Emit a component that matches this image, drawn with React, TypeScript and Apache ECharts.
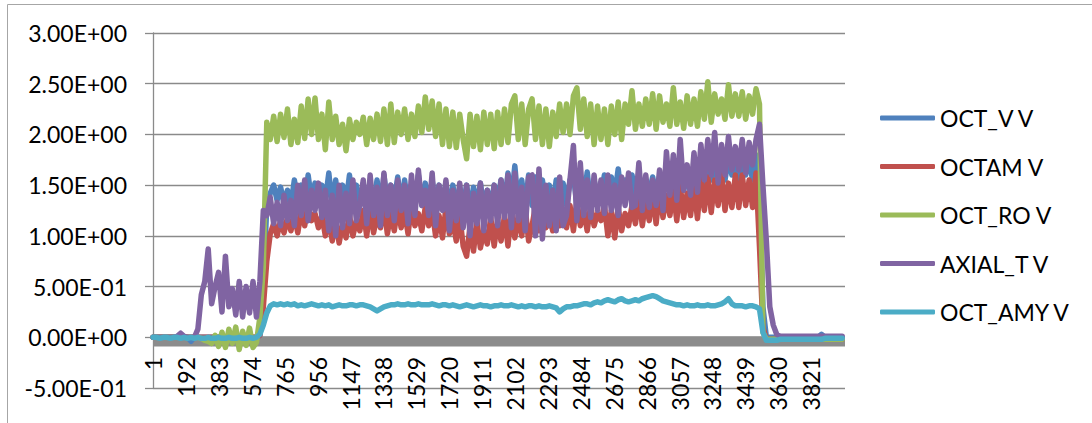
import React, { useEffect, useRef } from 'react';
import * as echarts from 'echarts';

const SERIES_NAMES = ['OCT_V V', 'OCTAM V', 'OCT_RO V', 'AXIAL_T V', 'OCT_AMY V'];
const COLORS = ['#4F81BD', '#C0504D', '#9BBB59', '#8064A2', '#4BACC6'];
const X_TICK_LABELS = [1, 192, 383, 574, 765, 956, 1147, 1338, 1529, 1720, 1911, 2102, 2293, 2484, 2675, 2866, 3057, 3248, 3439, 3630, 3821];
const SAMPLE_FIRST = 1;
const SAMPLE_STEP = 20;

// values read every 20 samples (sample 1, 21, 41, ... 4001)
const OCT_V = [
  0, 0, 0, 0, 0, 0, 0, 0, 0, 0,
  0, -0.04, 0, 0, 0, 0, 0, 0, 0, 0,
  0, 0, 0, 0, 0, 0, 0, 0, 0, 0,
  0, 0.02, 0.5, 1.3, 1.42, 1.5, 1.35, 1.48, 1.32, 1.45,
  1.3, 1.55, 1.35, 1.5, 1.28, 1.6, 1.35, 1.52, 1.3, 1.5,
  1.35, 1.62, 1.3, 1.55, 1.25, 1.5, 1.32, 1.6, 1.28, 1.5,
  1.3, 1.52, 1.25, 1.48, 1.3, 1.55, 1.28, 1.6, 1.32, 1.5,
  1.35, 1.58, 1.3, 1.55, 1.28, 1.5, 1.35, 1.6, 1.3, 1.52,
  1.3, 1.55, 1.28, 1.5, 1.3, 1.52, 1.25, 1.5, 1.28, 1.48,
  1.3, 1.5, 1.25, 1.48, 1.3, 1.52, 1.28, 1.45, 1.3, 1.5,
  1.35, 1.55, 1.3, 1.62, 1.35, 1.69, 1.3, 1.55, 1.28, 1.6,
  1.3, 1.58, 1.25, 1.55, 1.3, 1.5, 1.28, 1.55, 1.3, 1.52,
  1.3, 1.55, 1.6, 1.3, 1.58, 1.35, 1.63, 1.3, 1.55, 1.35,
  1.4, 1.6, 1.35, 1.58, 1.4, 1.66, 1.35, 1.55, 1.4, 1.6,
  1.4, 1.6, 1.38, 1.55, 1.42, 1.58, 1.4, 1.52, 1.45, 1.5,
  1.45, 1.6, 1.4, 1.65, 1.45, 1.6, 1.42, 1.65, 1.45, 1.7,
  1.5, 1.75, 1.55, 1.8, 1.5, 1.72, 1.55, 1.78, 1.6, 1.75,
  1.55, 1.8, 1.6, 1.75, 1.55, 1.8, 1.5, 0.3, 0, 0,
  0, 0, 0, 0, 0, 0, 0, 0, 0, 0,
  0, 0, 0, 0, 0.03, 0, 0, 0, 0, 0,
  0,
];

const OCTAM_V = [
  0, 0, 0, 0, 0, 0, 0, 0, 0, 0,
  0, 0, 0, 0, 0, 0, 0, 0, 0, 0,
  0, 0, 0, 0, 0, 0, 0, 0, 0, 0,
  0, 0.02, 0.3, 0.75, 1.02, 1.12, 1.0, 1.15, 1.03, 1.18,
  1.05, 1.2, 1.03, 1.25, 1.1, 1.3, 1.15, 1.22, 1.08, 1.2,
  1.0, 1.18, 0.95, 1.15, 0.93, 1.12, 0.98, 1.2, 1.0, 1.15,
  1.05, 1.25, 1.0, 1.28, 1.03, 1.2, 1.08, 1.3, 1.02, 1.22,
  1.05, 1.28, 1.08, 1.25, 1.02, 1.3, 1.1, 1.22, 1.05, 1.28,
  1.1, 1.25, 1.0, 1.2, 0.98, 1.28, 1.02, 1.15, 0.95, 1.2,
  0.9, 0.8, 1.1, 0.85, 1.15, 0.88, 1.05, 0.92, 1.18, 0.9,
  1.15, 0.95, 1.2, 0.9, 1.25, 0.98, 1.2, 1.0, 1.28, 0.95,
  1.1, 1.3, 1.05, 1.25, 1.08, 1.2, 1.05, 1.28, 1.1, 1.2,
  1.08, 1.3, 1.05, 1.35, 1.1, 1.25, 1.05, 1.3, 1.1, 1.22,
  1.15, 1.3, 1.0, 1.25, 0.98, 1.28, 1.05, 1.22, 1.1, 1.3,
  1.12, 1.4, 1.1, 1.35, 1.15, 1.42, 1.12, 1.45, 1.18, 1.4,
  1.2, 1.45, 1.15, 1.5, 1.18, 1.42, 1.2, 1.5, 1.17, 1.55,
  1.25, 1.58, 1.23, 1.55, 1.3, 1.6, 1.25, 1.52, 1.28, 1.6,
  1.28, 1.6, 1.3, 1.55, 1.28, 1.62, 0.9, 0.1, -0.02, -0.02,
  -0.02, -0.02, -0.02, -0.02, -0.02, -0.02, -0.02, -0.02, -0.02, -0.02,
  -0.02, -0.02, -0.02, -0.02, -0.02, -0.02, -0.02, -0.02, -0.02, -0.02,
  -0.02,
];

const OCT_RO_V = [
  0, 0, 0, 0, 0, 0, 0, 0, 0, 0,
  0, 0, 0, 0, -0.01, -0.03, -0.04, -0.06, 0.02, -0.09,
  0.05, -0.1, 0.08, -0.06, 0.1, -0.12, 0.06, -0.08, 0.09, -0.1,
  -0.05, 0.2, 0.7, 2.12, 1.95, 2.18, 1.93, 2.2, 1.97, 2.25,
  1.9, 2.15, 1.92, 2.28, 1.96, 2.35, 2.0, 2.36, 1.95, 2.2,
  1.85, 2.32, 1.95, 2.18, 1.9, 2.1, 1.84, 2.15, 1.95, 2.12,
  2.0, 2.17, 1.9, 2.16, 1.95, 2.2, 1.93, 2.25, 1.9, 2.3,
  1.92, 2.22, 2.0, 2.25, 1.95, 2.2, 1.98, 2.28, 2.02, 2.37,
  2.05, 2.33, 1.98, 2.3, 1.9, 2.25, 1.88, 2.22, 1.87, 2.2,
  1.95, 1.76, 2.2, 1.88, 2.18, 1.85, 2.22, 1.9, 2.2, 1.86,
  2.22, 1.9, 2.25, 1.92, 2.3, 2.38, 1.95, 2.3, 1.9, 2.25,
  2.35, 1.95, 2.28, 1.9, 2.25, 1.88, 2.22, 1.98, 2.3, 2.02,
  2.3, 2.0, 2.38, 2.46, 2.05, 2.35, 1.98, 2.3, 1.9, 2.28,
  1.95, 2.25, 1.9, 2.28, 2.0, 2.32, 1.95, 2.3, 2.1, 2.43,
  2.05, 2.3, 2.08, 2.35, 2.1, 2.4, 2.05, 2.38, 2.12, 2.3,
  2.08, 2.46, 2.1, 2.32, 2.06, 2.38, 2.1, 2.35, 2.08, 2.42,
  2.15, 2.52, 2.12, 2.4, 2.2, 2.35, 2.15, 2.49, 2.18, 2.4,
  2.18, 2.42, 2.15, 2.38, 2.2, 2.45, 2.3, 0.05, -0.02, -0.02,
  -0.02, -0.02, -0.02, -0.02, -0.02, -0.02, -0.02, -0.02, -0.02, -0.02,
  -0.02, -0.02, -0.02, -0.02, -0.02, -0.02, -0.02, -0.02, -0.02, -0.02,
  -0.02,
];

const AXIAL_T_V = [
  0, 0, 0, 0, 0, 0, 0, 0.01, 0.04, 0.01,
  0, 0, 0, 0.08, 0.42, 0.55, 0.87, 0.33, 0.5, 0.64,
  0.25, 0.8, 0.3, 0.48, 0.22, 0.55, 0.2, 0.5, 0.24, 0.55,
  0.2, 0.55, 1.25, 1.2, 1.38, 1.12, 1.33, 1.1, 1.4, 1.15,
  1.35, 1.1, 1.5, 1.2, 1.55, 1.15, 1.45, 1.25, 1.52, 1.18,
  1.45, 1.05, 1.4, 1.0, 1.5, 1.08, 1.42, 1.12, 1.55, 1.15,
  1.3, 1.55, 1.12, 1.6, 1.2, 1.48, 1.1, 1.62, 1.2, 1.5,
  1.15, 1.55, 1.25, 1.5, 1.12, 1.6, 1.2, 1.65, 1.3, 1.45,
  1.2, 1.62, 1.1, 1.5, 1.25, 1.55, 1.05, 1.45, 1.15, 1.52,
  1.08, 1.5, 1.0, 1.42, 1.12, 1.52, 1.05, 1.45, 1.15, 1.5,
  1.1, 1.55, 1.18, 1.6, 1.08, 1.62, 1.15, 1.48, 1.05, 1.58,
  1.6, 1.0, 1.66, 0.97, 1.5, 1.1, 1.45, 1.05, 1.58, 1.1,
  1.2, 1.55, 1.89, 1.15, 1.72, 1.2, 1.55, 1.18, 1.6, 1.25,
  1.55, 1.22, 1.6, 1.25, 1.5, 1.2, 1.58, 1.3, 1.62, 1.28,
  1.3, 1.72, 1.25, 1.6, 1.28, 1.55, 1.3, 1.65, 1.25, 1.83,
  1.4, 1.8, 1.35, 1.95, 1.45, 1.7, 1.4, 1.82, 1.43, 1.9,
  1.55, 1.95, 1.6, 2.02, 1.52, 1.9, 1.6, 1.98, 1.65, 1.88,
  1.65, 1.95, 1.62, 1.92, 1.7, 1.95, 2.1, 1.5, 0.95, 0.3,
  0.12, 0.03, 0.01, 0.01, 0.01, 0.01, 0.01, 0.01, 0.01, 0.01,
  0.01, 0.01, 0.01, 0.01, 0.01, 0.01, 0.01, 0.01, 0.01, 0.01,
  0.01,
];

const OCT_AMY_V = [
  0, 0, -0.01, 0, 0, -0.01, 0, 0, -0.01, 0,
  -0.01, 0, -0.01, 0, -0.01, -0.01, 0, -0.01, -0.01, 0,
  -0.01, -0.01, 0, -0.01, -0.01, 0, -0.01, -0.01, 0, -0.01,
  0, 0.03, 0.12, 0.24, 0.31, 0.33, 0.32, 0.33, 0.32, 0.33,
  0.32, 0.33, 0.31, 0.32, 0.31, 0.32, 0.33, 0.32, 0.31, 0.32,
  0.31, 0.32, 0.3, 0.31, 0.32, 0.31, 0.31, 0.32, 0.32, 0.31,
  0.32, 0.32, 0.31, 0.3, 0.28, 0.26, 0.28, 0.3, 0.31, 0.32,
  0.32, 0.33, 0.32, 0.32, 0.33, 0.32, 0.32, 0.33, 0.32, 0.32,
  0.32, 0.33, 0.32, 0.31, 0.32, 0.32, 0.31, 0.32, 0.31, 0.3,
  0.31, 0.32, 0.31, 0.3, 0.31, 0.32, 0.31, 0.31, 0.3, 0.31,
  0.31, 0.32, 0.31, 0.31, 0.32, 0.31, 0.3, 0.31, 0.3, 0.31,
  0.31, 0.3, 0.31, 0.3, 0.3, 0.31, 0.3, 0.29, 0.25, 0.28,
  0.3, 0.3, 0.31, 0.31, 0.32, 0.33, 0.33, 0.32, 0.34, 0.35,
  0.34, 0.36, 0.37, 0.36, 0.35, 0.37, 0.38, 0.36, 0.35, 0.36,
  0.37, 0.36, 0.38, 0.39, 0.4, 0.41, 0.4, 0.38, 0.36, 0.35,
  0.34, 0.33, 0.32, 0.32, 0.31, 0.32, 0.31, 0.31, 0.32, 0.31,
  0.31, 0.32, 0.31, 0.31, 0.32, 0.33, 0.35, 0.38, 0.33, 0.31,
  0.31, 0.31, 0.3, 0.31, 0.31, 0.3, 0.28, 0.05, -0.03, -0.03,
  -0.03, -0.03, -0.02, -0.02, -0.02, -0.02, -0.02, -0.02, -0.02, -0.02,
  -0.02, -0.02, -0.02, -0.02, -0.02, -0.01, -0.01, -0.01, -0.01, -0.01,
  -0.01,
];

const SERIES_VALUES = [OCT_V, OCTAM_V, OCT_RO_V, AXIAL_T_V, OCT_AMY_V];

function sciLabel(v: number): string {
  if (Math.abs(v) < 1e-12) return '0.00E+00';
  const e = Math.floor(Math.log10(Math.abs(v)) + 1e-9);
  const m = v / Math.pow(10, e);
  const es = (e < 0 ? '-' : '+') + String(Math.abs(e)).padStart(2, '0');
  return m.toFixed(2) + 'E' + es;
}

const FONT = 'Lato, "Open Sans", sans-serif';
const GRID_COLOR = '#8a8a8a';

export default function App() {
  const ref = useRef<HTMLDivElement>(null);
  useEffect(() => {
    document.body.style.margin = '0';
    const chart = echarts.init(ref.current!, null, { renderer: 'svg' });
    const series = SERIES_NAMES.map((name, i) => {
      const vals = SERIES_VALUES[i];
      const s: any = {
        name,
        type: 'line',
        data: vals.map((v, k) => [SAMPLE_FIRST + SAMPLE_STEP * k, v]),
        showSymbol: false,
        symbol: 'none',
        color: COLORS[i],
        lineStyle: { width: 5.5, color: COLORS[i], cap: 'round', join: 'round' },
        emphasis: { disabled: true },
      };
      if (i === 0) {
        s.markArea = {
          silent: true,
          itemStyle: { color: '#8c8c8c' },
          label: { show: false },
          data: [[{ yAxis: 0.01 }, { yAxis: -0.09 }]],
        };
      }
      return s;
    });
    chart.setOption({
      animation: false,
      backgroundColor: '#ffffff',
      textStyle: { fontFamily: FONT },
      graphic: [
        {
          type: 'rect',
          silent: true,
          shape: { x: 7.5, y: 4.5, width: 1300, height: 700 },
          style: { fill: 'none', stroke: '#a6a6a6', lineWidth: 1 },
        },
      ],
      grid: { left: 153, right: 247, top: 33, bottom: 35, outerBoundsMode: 'none', containLabel: false },
      legend: {
        orient: 'vertical',
        left: 875,
        top: 101,
        itemWidth: 55,
        itemHeight: 5,
        itemGap: 24.5,
        icon: 'roundRect',
        data: SERIES_NAMES,
        textStyle: { fontSize: 23, color: '#000', fontFamily: FONT, lineHeight: 24 },
      },
      xAxis: {
        type: 'value',
        position: 'bottom',
        offset: -50,
        min: 0.5,
        max: 4017.5,
        axisLine: { show: false, onZero: false },
        axisTick: { show: false },
        splitLine: { show: false },
        axisLabel: {
          customValues: X_TICK_LABELS,
          formatter: (v: number) => String(Math.round(v)),
          rotate: 90,
          margin: 19,
          fontSize: 23,
          color: '#000',
          fontFamily: FONT,
        },
      },
      yAxis: {
        type: 'value',
        min: -0.5,
        max: 3,
        interval: 0.5,
        axisLine: { show: true, lineStyle: { color: GRID_COLOR, width: 1.3 } },
        axisTick: { show: true, length: 8, lineStyle: { color: GRID_COLOR, width: 1.3 } },
        splitLine: { show: true, lineStyle: { color: GRID_COLOR, width: 1.3 } },
        axisLabel: { formatter: sciLabel, fontSize: 23, color: '#000', margin: 26, fontFamily: FONT },
      },
      series,
    });
    return () => chart.dispose();
  }, []);
  return <div ref={ref} style={{ width: 1092, height: 423 }} />;
}
